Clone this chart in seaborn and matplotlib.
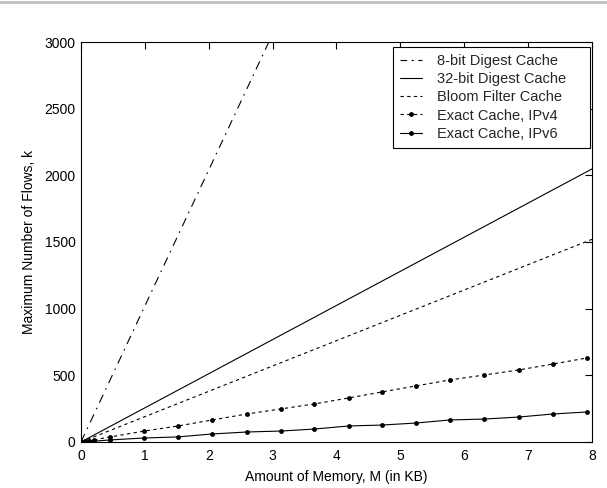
import matplotlib
matplotlib.use("Agg")
import matplotlib.pyplot as plt
import seaborn as sns
import pandas as pd
from matplotlib.lines import Line2D

sns.set_theme(style="white")
plt.rcParams['font.family'] = ['Liberation Sans', 'DejaVu Sans']

# Data (memory in KB, max number of flows)
x_8bit = [0, 1, 2, 3, 4]
y_8bit = [0, 1020, 2040, 3060, 4080]

x_32bit = [0, 1, 2, 3, 4, 5, 6, 7, 8]
y_32bit = [0, 256, 512, 768, 1024, 1280, 1536, 1792, 2048]

x_bloom = [0, 1, 2, 3, 4, 5, 6, 7, 8]
y_bloom = [0, 190, 380, 570, 760, 950, 1140, 1330, 1520]

x_exact = [0, 0.03, 0.07, 0.13, 0.2, 0.45, 0.99, 1.52, 2.05, 2.6, 3.13, 3.65,
           4.19, 4.71, 5.24, 5.77, 6.31, 6.85, 7.39, 7.92]
y_ipv4 = [0, 3, 6, 10, 16, 37, 82, 120, 165, 210, 248, 285,
          330, 375, 420, 465, 502, 540, 585, 630]
y_ipv6 = [0, 1, 2, 4, 6, 15, 30, 38, 60, 75, 82, 97,
          120, 127, 142, 165, 172, 187, 210, 225]

labels = ["8-bit Digest Cache", "32-bit Digest Cache", "Bloom Filter Cache",
          "Exact Cache, IPv4", "Exact Cache, IPv6"]
xticks = [0, 1, 2, 3, 4, 5, 6, 7, 8]
yticks = [0, 500, 1000, 1500, 2000, 2500, 3000]

fig = plt.figure(figsize=(6.07, 4.88), dpi=100)
ax = fig.add_axes([0.1334, 0.0943, 0.8419, 0.8196])

lw = 0.8
dashdot = (0, (8, 5, 1.5, 5))
dash = (0, (3, 3))
sns.lineplot(x=x_8bit, y=y_8bit, ax=ax, color='black', lw=lw,
             linestyle=dashdot, label=labels[0])
sns.lineplot(x=x_32bit, y=y_32bit, ax=ax, color='black', lw=lw,
             linestyle='-', label=labels[1])
sns.lineplot(x=x_bloom, y=y_bloom, ax=ax, color='black', lw=lw,
             linestyle=dash, label=labels[2])
sns.lineplot(x=x_exact, y=y_ipv4, ax=ax, color='black', lw=lw,
             linestyle=dash, marker='o', markersize=3.5,
             markeredgewidth=0, label=labels[3])
sns.lineplot(x=x_exact, y=y_ipv6, ax=ax, color='black', lw=lw,
             linestyle='-', marker='o', markersize=3.5,
             markeredgewidth=0, label=labels[4])

ax.set_xlim(0, 8)
ax.set_ylim(0, 3000)
ax.set_xticks(xticks)
ax.set_yticks(yticks)
ax.tick_params(direction='in', length=5, width=0.8, top=True, right=True,
               labelsize=10, colors='black')
ax.tick_params(axis='x', pad=5)
ax.tick_params(axis='y', pad=4)
for sp in ax.spines.values():
    sp.set_color('black')
    sp.set_linewidth(0.8)

ax.set_xlabel("Amount of Memory, M (in KB)", fontsize=10, color='black', labelpad=5)
ax.set_ylabel("Maximum Number of Flows, k", fontsize=10, color='black', labelpad=6)

handles = [
    Line2D([], [], color='black', lw=lw, linestyle=(0, (6, 4, 2, 4))),
    Line2D([], [], color='black', lw=lw, linestyle='-'),
    Line2D([], [], color='black', lw=lw, linestyle=dash),
    Line2D([], [], color='black', lw=lw, linestyle=dash, marker='o',
           markersize=3.5, markeredgewidth=0),
    Line2D([], [], color='black', lw=lw, linestyle='-', marker='o',
           markersize=3.5, markeredgewidth=0),
]
leg = ax.legend(handles, labels, loc='upper left',
                bbox_to_anchor=(0.6106, 0.5, 0.3855, 0.4875), mode='expand',
                fontsize=10.5, frameon=True,
                fancybox=False, edgecolor='black', framealpha=1,
                borderpad=0.5, labelspacing=0.28, handlelength=1.5,
                handletextpad=1.0, borderaxespad=0.0, markerscale=1)
leg.get_frame().set_linewidth(0.8)

fig.add_artist(Line2D([0, 1], [0.996, 0.996], color='#c0c0c0', lw=2,
                      transform=fig.transFigure))

fig.savefig("out.png", dpi=100)
